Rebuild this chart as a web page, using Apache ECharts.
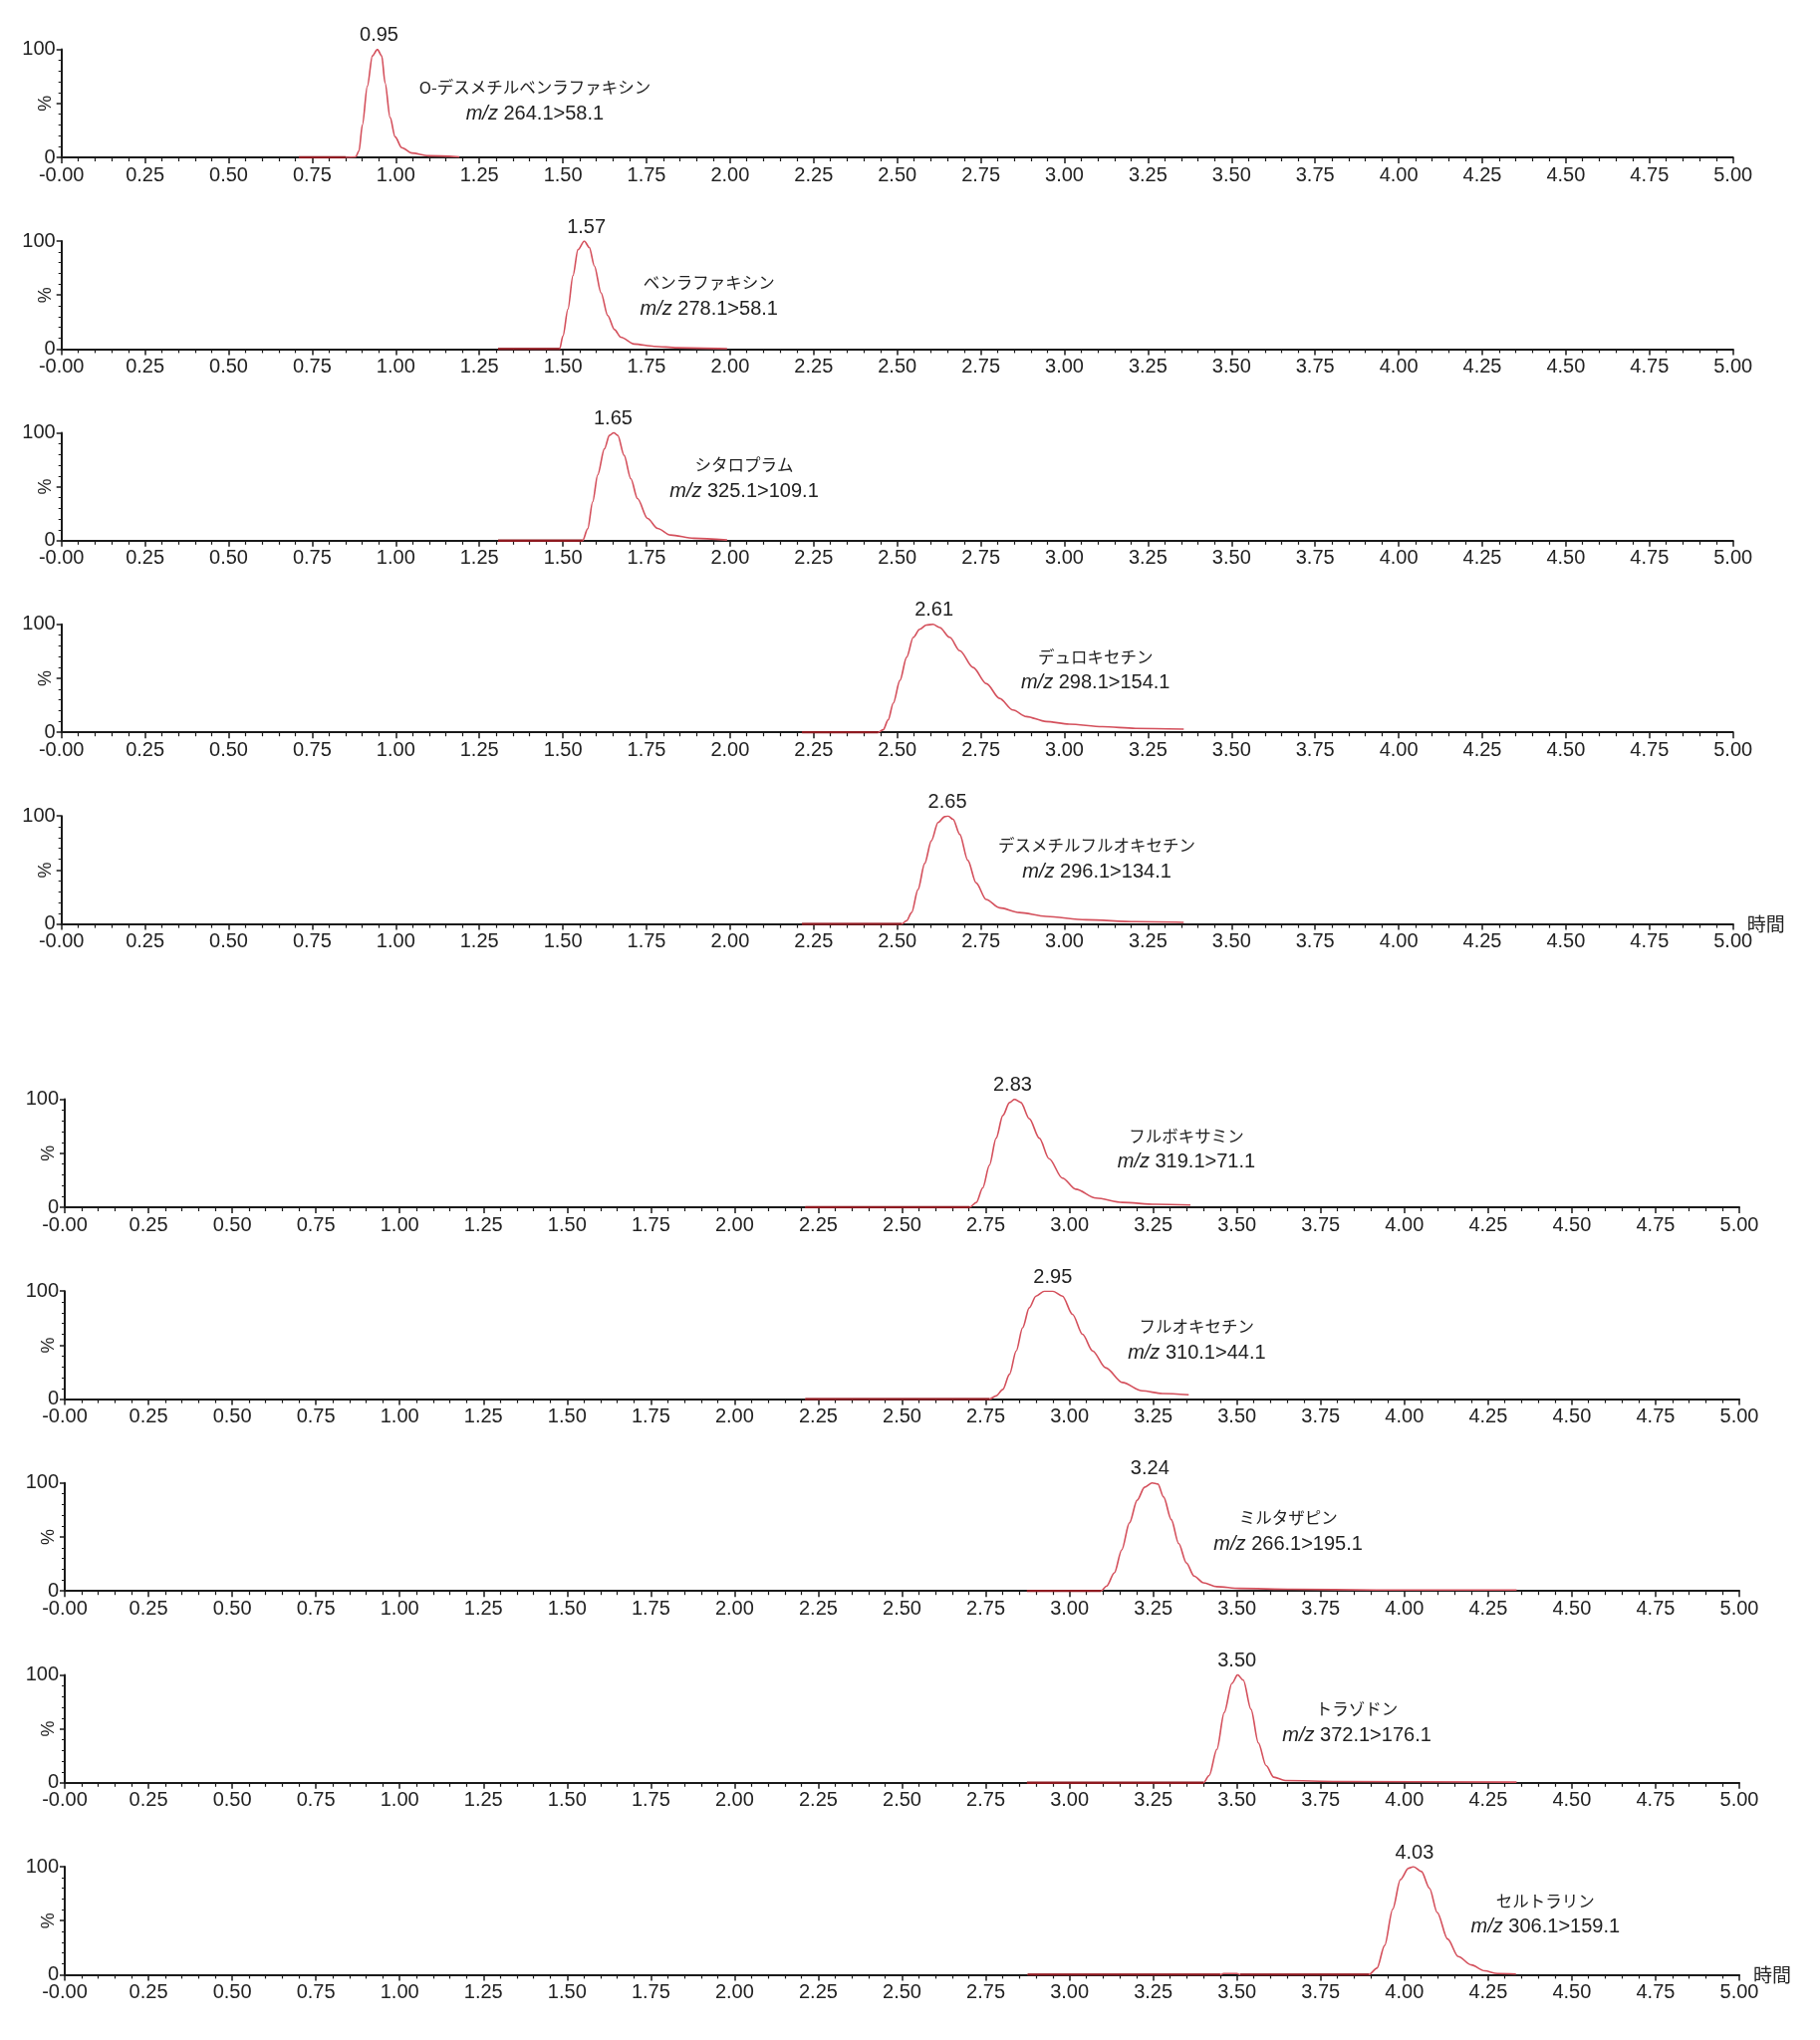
<!DOCTYPE html>
<html>
<head>
<meta charset="utf-8">
<script src="https://cdn.jsdelivr.net/npm/echarts@6/dist/echarts.min.js"></script>
<style>
html,body{margin:0;padding:0;background:#fff;}
#chart{width:1827px;height:2048px;}
</style>
</head>
<body>
<div id="chart"></div>
<script>
// ---- data ----
const peakRT = [0.95, 1.57, 1.65, 2.61, 2.65, 2.83, 2.95, 3.24, 3.50, 4.03];
const compoundNames = ['O-デスメチルベンラファキシン', 'ベンラファキシン', 'シタロプラム', 'デュロキセチン', 'デスメチルフルオキセチン',
  'フルボキサミン', 'フルオキセチン', 'ミルタザピン', 'トラゾドン', 'セルトラリン'];
const transitions = ['264.1>58.1', '278.1>58.1', '325.1>109.1', '298.1>154.1', '296.1>134.1',
  '319.1>71.1', '310.1>44.1', '266.1>195.1', '372.1>176.1', '306.1>159.1'];
const xAxisName = '時間';
const yAxisName = '%';

const trace0 = [[0.71,0],[0.85,0],[0.88,0.5],[0.89,6],[0.90,30],[0.915,66],[0.93,94],[0.945,100],[0.958,94],[0.968,69],[0.983,37],[0.998,19],[1.018,9],[1.048,4],[1.097,1.5],[1.19,0.5]];
const trace1 = [[1.306,0],[1.49,0],[1.50,12],[1.515,37],[1.53,68],[1.545,92],[1.564,100],[1.579,94],[1.594,77],[1.614,52],[1.634,31],[1.654,18],[1.673,11],[1.713,4.6],[1.773,2.5],[1.842,1.2],[1.991,0.3]];
const trace2 = [[1.306,0],[1.559,0],[1.574,11],[1.589,36],[1.604,61],[1.624,85],[1.639,97.5],[1.652,100],[1.664,97.5],[1.683,79],[1.703,57.5],[1.723,39],[1.753,20.6],[1.783,11.4],[1.822,5.2],[1.892,2.2],[1.991,0.6]];
const trace3 = [[2.215,0],[2.443,0],[2.458,2.4],[2.473,11.6],[2.488,27],[2.508,48],[2.528,69.5],[2.548,88],[2.567,95.4],[2.587,99.4],[2.607,100],[2.627,97],[2.657,88],[2.687,75.6],[2.727,60],[2.767,45],[2.806,31.4],[2.846,20.7],[2.886,14.6],[2.945,10],[3.014,7.6],[3.114,5.2],[3.213,3.7],[3.357,3]];
const trace4 = [[2.215,0],[2.513,0],[2.528,3],[2.543,10.6],[2.562,31.8],[2.582,56],[2.602,77],[2.622,94],[2.642,99.4],[2.652,100],[2.667,97],[2.687,83],[2.711,59],[2.736,38],[2.766,22.7],[2.806,15],[2.865,10.6],[2.945,7],[3.064,3.9],[3.213,2.1],[3.357,1.5]];
const trace5 = [[2.211,0],[2.702,0],[2.722,4.5],[2.741,18],[2.761,39],[2.781,64],[2.801,85],[2.821,97],[2.836,100],[2.855,97],[2.880,82],[2.910,64],[2.939,45],[2.979,27],[3.019,16.7],[3.079,8.5],[3.158,4.5],[3.257,2.7],[3.361,2.1]];
const trace6 = [[2.211,0],[2.761,0],[2.781,3],[2.801,9],[2.821,23],[2.841,44.6],[2.860,66],[2.880,84.6],[2.900,95.4],[2.925,100],[2.950,100],[2.979,95.4],[3.009,78.5],[3.039,60],[3.069,44.6],[3.108,29],[3.158,15.4],[3.217,7.7],[3.277,5.2],[3.356,4]];
const trace7 = [[2.873,0],[3.094,0],[3.111,4.6],[3.134,16.8],[3.156,38],[3.179,63],[3.202,84],[3.224,96],[3.247,100],[3.264,99],[3.281,87],[3.304,66],[3.326,44],[3.349,26],[3.372,13.8],[3.40,7.6],[3.44,4],[3.508,2.4],[3.666,1.5],[3.916,0.9],[4.335,0.9]];
const trace8 = [[2.873,0],[3.40,0],[3.417,6.7],[3.44,31],[3.462,65],[3.485,92],[3.502,100],[3.519,95],[3.542,68],[3.564,37],[3.587,16],[3.61,5.2],[3.644,2.1],[3.80,1.2],[4.335,0.6]];
const trace9 = [[2.875,0],[3.45,0],[3.46,1],[3.50,1],[3.51,0],[3.894,0],[3.918,6],[3.941,27],[3.965,60.6],[3.988,88],[4.012,98.5],[4.027,100],[4.051,95.5],[4.075,80],[4.098,57.6],[4.129,33],[4.161,16.7],[4.20,9],[4.239,3.6],[4.278,1],[4.333,0.6]];
const traces = [trace0, trace1, trace2, trace3, trace4, trace5, trace6, trace7, trace8, trace9];

// ---- layout (label anchors in data space: time, %) ----
const labelAnchorTime = [1.416, 1.937, 2.042, 3.093, 3.097, 3.349, 3.380, 3.653, 3.858, 4.421];
const labelAnchorPct  = [52.4, 49.2, 57.9, 57.7, 60.5, 54.2, 54.8, 55.4, 56.0, 55.9];

const FONT = "'Liberation Sans', Arial, 'Noto Sans CJK JP', sans-serif";
const CJK = "'Noto Sans CJK JP', 'Liberation Sans', sans-serif";
const INK = '#1a1a1a';
const TRACE = '#d4505c';
const BASE = '#8e1a20';

function gridRect(i) {
  if (i < 5) return { left: 61.7, width: 1678, top: 49.6 + 192.4 * i, height: 108.4 };
  return { left: 65, width: 1681, top: 1103.6 + 192.6 * (i - 5), height: 108.4 };
}

// flat (zero-level) baseline stretches of a trace, other points broken with null
function baselineOf(tr) {
  return tr.map((p, k) => {
    const prev = tr[k - 1], next = tr[k + 1];
    const flat = p[1] === 0 && ((prev && prev[1] === 0) || (next && next[1] === 0));
    return flat ? p : [p[0], null];
  });
}

const grids = [], xAxes = [], yAxes = [], series = [];
for (let i = 0; i < 10; i++) {
  grids.push(Object.assign({ containLabel: false, outerBoundsMode: 'none' }, gridRect(i)));
  xAxes.push({
    type: 'value', gridIndex: i, min: 0, max: 5, interval: 0.25,
    axisLine: { lineStyle: { color: INK, width: 2 } },
    axisTick: { length: 6, lineStyle: { color: INK, width: 1.5 } },
    minorTick: { show: true, splitNumber: 5, length: 4, lineStyle: { color: INK, width: 1.2 } },
    splitLine: { show: false }, minorSplitLine: { show: false },
    axisLabel: { fontSize: 20, color: '#222', margin: 8, fontFamily: FONT,
      formatter: v => (v === 0 ? '-0.00' : v.toFixed(2)) },
    name: (i === 4 || i === 9) ? xAxisName : '',
    nameLocation: 'end', nameGap: 14, nameMoveOverlap: false,
    nameTextStyle: { fontSize: 19, color: '#222', fontFamily: CJK, padding: [0, 0, 6, 0] }
  });
  yAxes.push({
    type: 'value', gridIndex: i, min: 0, max: 100, interval: 50,
    axisLine: { show: true, lineStyle: { color: INK, width: 2 } },
    axisTick: { show: true, length: 5, lineStyle: { color: INK, width: 1.5 } },
    minorTick: { show: true, splitNumber: 5, length: 3, lineStyle: { color: INK, width: 1 } },
    splitLine: { show: false },
    axisLabel: { fontSize: 20, color: '#222', margin: 6, fontFamily: FONT,
      formatter: v => (v === 50 ? '' : String(v)) },
    name: yAxisName, nameLocation: 'middle', nameRotate: 90, nameGap: 7, nameMoveOverlap: false,
    nameTextStyle: { fontSize: 18, color: '#222', fontFamily: FONT }
  });
  series.push({
    type: 'line', xAxisIndex: i, yAxisIndex: i, data: traces[i],
    showSymbol: false, symbol: 'none', silent: true, animation: false,
    smooth: 0.3, smoothMonotone: 'x',
    lineStyle: { width: 1.6, color: TRACE }, itemStyle: { color: TRACE },
    markPoint: {
      symbol: 'circle', symbolSize: 0, animation: false, silent: true,
      data: [
        { coord: [peakRT[i], 100],
          label: { show: true, position: 'top', distance: 4, formatter: peakRT[i].toFixed(2),
                   fontSize: 20, color: '#222', fontFamily: FONT } },
        { coord: [labelAnchorTime[i], labelAnchorPct[i]],
          label: { show: true, position: 'inside',
            formatter: '{n|' + compoundNames[i] + '}\n{it|m/z}{v| ' + transitions[i] + '}',
            rich: {
              n: { fontSize: 16.5, color: '#222', fontFamily: CJK, lineHeight: 26, align: 'center' },
              it: { fontSize: 20, color: '#222', fontFamily: FONT, fontStyle: 'italic', lineHeight: 26 },
              v: { fontSize: 20, color: '#222', fontFamily: FONT, lineHeight: 26 }
            } } }
      ]
    }
  });
  series.push({
    type: 'line', xAxisIndex: i, yAxisIndex: i, data: baselineOf(traces[i]),
    showSymbol: false, symbol: 'none', silent: true, animation: false, connectNulls: false,
    lineStyle: { width: 2.4, color: BASE }, itemStyle: { color: BASE }
  });
}

const chart = echarts.init(document.getElementById('chart'), null, { renderer: 'canvas' });
chart.setOption({
  backgroundColor: '#ffffff',
  animation: false,
  textStyle: { fontFamily: FONT },
  grid: grids, xAxis: xAxes, yAxis: yAxes, series: series
});
</script>
</body>
</html>
